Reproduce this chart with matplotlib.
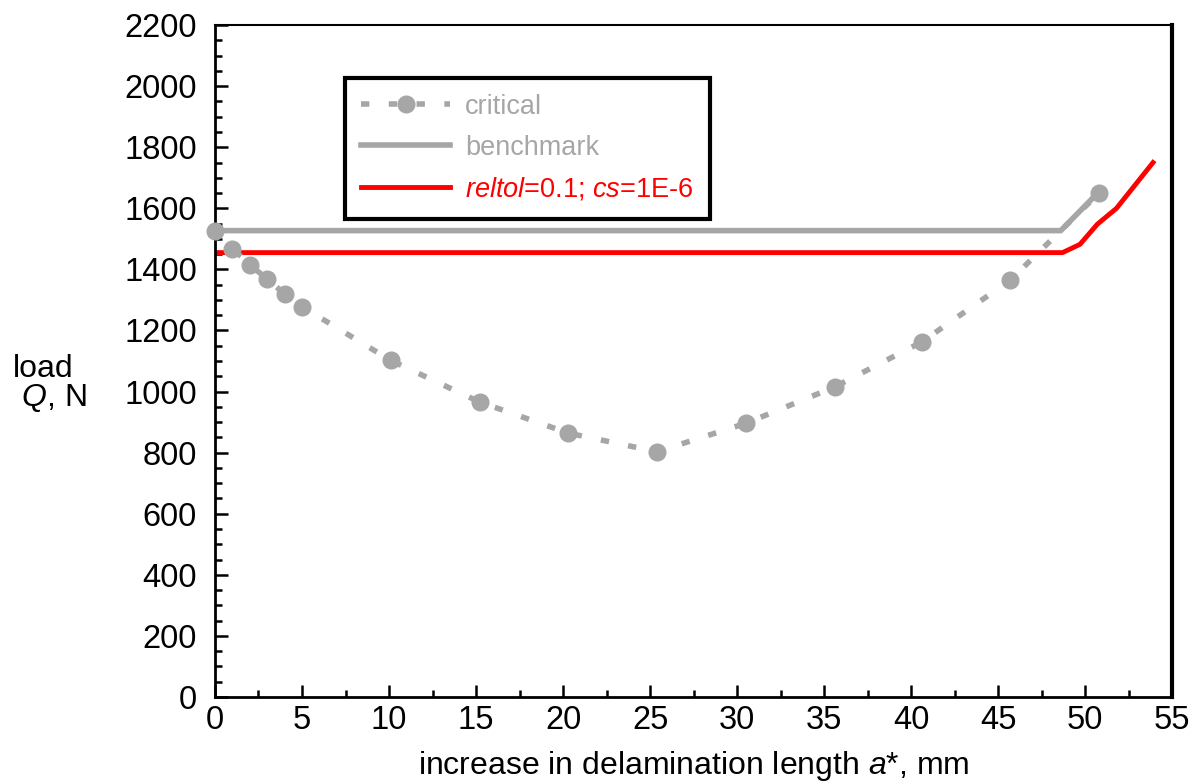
import matplotlib
matplotlib.use("Agg")
import matplotlib.pyplot as plt
from matplotlib.ticker import MultipleLocator

plt.rcParams['font.family'] = ['Liberation Sans', 'DejaVu Sans']
plt.rcParams['mathtext.fontset'] = 'custom'
plt.rcParams['mathtext.rm'] = 'Liberation Sans'
plt.rcParams['mathtext.it'] = 'Liberation Sans:italic'

# critical load points
crit_a = [0, 1, 2, 3, 4, 5, 10.1, 15.2, 20.3, 25.4, 30.5, 35.6, 40.6, 45.7, 50.8]
crit_q = [1525, 1468, 1416, 1368, 1320, 1278, 1102, 966, 864, 803, 896, 1015, 1162, 1365, 1650]

# benchmark
bench_a = [0, 48.6, 50.8]
bench_q = [1527, 1527, 1655]

# reltol=0.1; cs=1E-6
red_a = [0, 48.7, 49.7, 50.7, 51.8, 53.9]
red_q = [1455, 1455, 1482, 1548, 1600, 1750]

grey = '#a6a6a6'

fig = plt.figure(figsize=(12.01, 7.84), dpi=100)
ax = fig.add_axes([0.179, 0.111, 0.797, 0.857])

ax.plot(crit_a, crit_q, color=grey, lw=4, ls=(0, (1.5, 3.5)), marker='o', ms=12,
        mec=grey, mfc=grey, label='critical', zorder=3, clip_on=False)
ax.plot(bench_a, bench_q, color=grey, lw=4, label='benchmark', zorder=2)
ax.plot(red_a, red_q, color='#ff0000', lw=3.5,
        label=r'$\it{reltol}$=0.1; $\it{cs}$=1E-6', zorder=2)

ax.set_xlim(0, 55)
ax.set_ylim(0, 2200)
ax.xaxis.set_major_locator(MultipleLocator(5))
ax.xaxis.set_minor_locator(MultipleLocator(2.5))
ax.yaxis.set_major_locator(MultipleLocator(200))
ax.yaxis.set_minor_locator(MultipleLocator(50))
ax.tick_params(which='both', direction='in', top=False, right=False,
               labelsize=23.5, width=1.8, color='black')
ax.tick_params(which='major', length=9)
ax.tick_params(which='minor', length=5)
ax.tick_params(axis='x', which='major', pad=6)
ax.tick_params(axis='y', which='major', pad=13)

ax.spines['left'].set_linewidth(2)
ax.spines['bottom'].set_linewidth(2)
ax.spines['right'].set_linewidth(3)
ax.spines['top'].set_linewidth(1.5)

ax.set_xlabel(r'increase in delamination length $\it{a}$*, mm', fontsize=23, labelpad=9)
fig.text(0.011, 0.51, 'load\n' + r' $\it{Q}$, N', fontsize=23, ha='left', va='center',
         linespacing=0.9)

leg = ax.legend(loc='upper left', bbox_to_anchor=(0.127, 0.934), fontsize=19.5,
                frameon=True, fancybox=False, edgecolor='black', framealpha=1,
                handlelength=3.3, borderpad=0.6, labelspacing=0.55, handletextpad=0.55,
                borderaxespad=0.3)
leg.get_frame().set_linewidth(3)
for txt, c in zip(leg.get_texts(), [grey, grey, '#ff0000']):
    txt.set_color(c)

plt.savefig('out.png', dpi=100)
plt.close(fig)
